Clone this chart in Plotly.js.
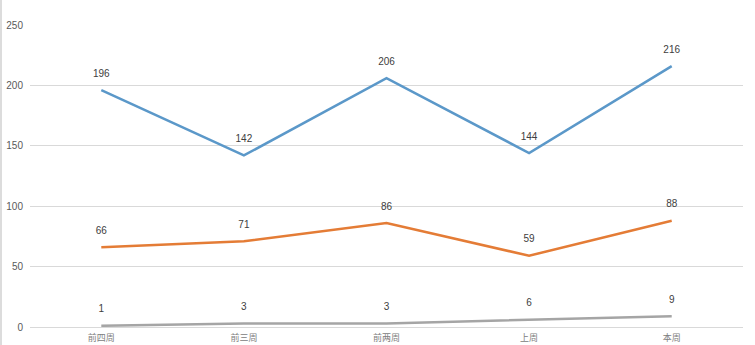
<!DOCTYPE html>
<html><head><meta charset="utf-8">
<script src="https://cdn.plot.ly/plotly-3.0.1.min.js"></script>
<style>html,body{margin:0;padding:0;background:#fff;}#c{width:755px;height:345px;border-left:2px solid #dcdcdc;box-sizing:border-box;}</style>
</head><body><div id="c"></div>
<script>
const categories = ['前四周','前三周','前两周','上周','本周'];
const seriesA = [196,142,206,144,216];
const seriesB = [66,71,86,59,88];
const seriesC = [1,3,3,6,9];
const yTicks = [0,50,100,150,200,250];
const colors = ['#5b98c9','#e47c36','#a5a5a5'];

function tr(vals,color){
  return {x:categories,y:vals,type:'scatter',mode:'lines+markers+text',
    text:vals.map(String),textposition:'top center',
    textfont:{family:'Liberation Sans, Arial, sans-serif',size:10,color:'#404040'},
    line:{color:color,width:2.5},marker:{size:16,opacity:0,color:color},
    cliponaxis:false,hoverinfo:'none'};
}
const data=[tr(seriesA,colors[0]),tr(seriesB,colors[1]),tr(seriesC,colors[2])];
const layout={width:753,height:345,margin:{l:28,r:12,t:25,b:18},
  paper_bgcolor:'#fff',plot_bgcolor:'#fff',showlegend:false,
  xaxis:{type:'category',range:[-0.5,4.5],showgrid:false,zeroline:false,showline:false,ticks:'',
    tickfont:{family:'Noto Sans CJK SC',size:9,color:'#808080'},ticklabelstandoff:4,fixedrange:true},
  yaxis:{range:[0,250],tickvals:yTicks,showgrid:true,gridcolor:'#d9d9d9',gridwidth:1,
    zeroline:true,zerolinecolor:'#d9d9d9',zerolinewidth:1,showline:false,ticks:'',
    tickfont:{family:'Liberation Sans, Arial, sans-serif',size:10,color:'#595959'},ticklabelstandoff:6},
};
Plotly.newPlot('c',data,layout,{displayModeBar:false,staticPlot:true});
</script></body></html>
